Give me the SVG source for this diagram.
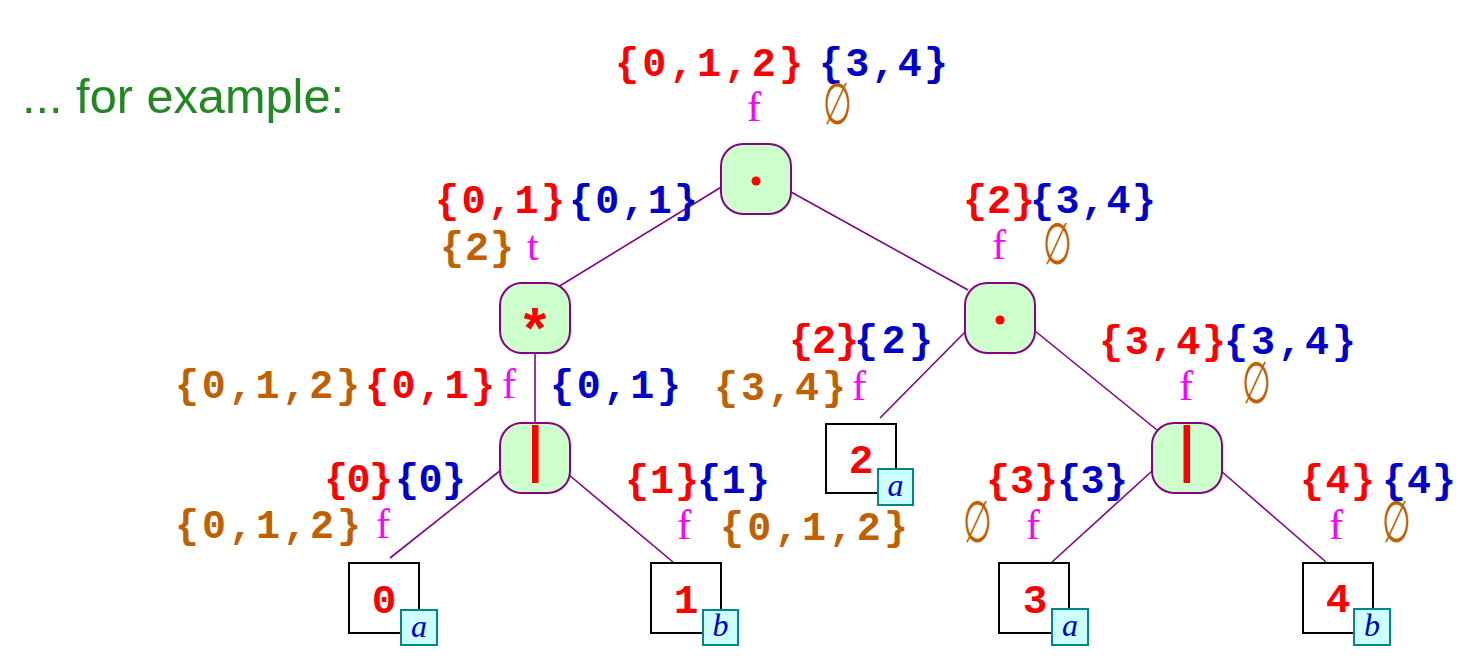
<svg xmlns="http://www.w3.org/2000/svg" width="1481" height="660" viewBox="0 0 1481 660">
<style>
.m{font-family:"Liberation Mono","DejaVu Sans Mono",monospace;font-weight:bold;font-size:40px}
.r{fill:#FF0000}.b{fill:#0000CC}.o{fill:#C06000}.g{fill:#FF00FF}
.f{font-family:"Liberation Serif","DejaVu Serif",serif;font-size:42px;fill:#FF00FF}
.e{font-family:"DejaVu Serif",serif;font-size:58px;fill:#C06000}
.node{fill:#CCFFCC;stroke:#880088;stroke-width:2}
.edge{stroke:#880088;stroke-width:1.6;fill:none}
.leaf{fill:#FFFFFF;stroke:#000000;stroke-width:2}
.tag{fill:#CCFFFF;stroke:#008888;stroke-width:2}
.tt{font-family:"Liberation Serif","DejaVu Serif",serif;font-style:italic;font-size:32px;fill:#0000CC;text-anchor:middle}
.ld{font-family:"Liberation Mono","DejaVu Sans Mono",monospace;font-weight:bold;font-size:41px;fill:#FF0000;text-anchor:middle}
.ttl{font-family:"Liberation Sans",Arial,sans-serif;font-size:48px;fill:#228822}
.star{font-family:"Liberation Mono","DejaVu Sans Mono",monospace;font-weight:bold;font-size:58px;fill:#FF0000;text-anchor:middle}
</style>
<rect width="1481" height="660" fill="#FFFFFF"/>
<text class="ttl" x="22" y="113" textLength="322" lengthAdjust="spacingAndGlyphs">... for example:</text>

<g id="connectors">
<line class="edge" x1="723" y1="186" x2="558" y2="287"/>
<line class="edge" x1="791" y1="192" x2="968" y2="290"/>
<line class="edge" x1="535" y1="353" x2="535" y2="423"/>
<line class="edge" x1="501" y1="470" x2="390" y2="558"/>
<line class="edge" x1="569" y1="475" x2="673" y2="562"/>
<line class="edge" x1="966" y1="331" x2="880" y2="418"/>
<line class="edge" x1="1035" y1="331" x2="1157" y2="430"/>
<line class="edge" x1="1152" y1="471" x2="1052" y2="562"/>
<line class="edge" x1="1221" y1="471" x2="1326" y2="562"/>
</g>

<g id="root">
<rect class="node" x="721" y="144" width="70" height="70" rx="22"/>
<circle cx="756" cy="181" r="4.5" fill="#FF0000"/>
<text class="m r" x="615" y="76" textLength="188" lengthAdjust="spacing">{0,1,2}</text>
<text class="m b" x="819" y="76" textLength="129" lengthAdjust="spacing">{3,4}</text>
<text class="f" x="747" y="121">f</text>
<text class="e" x="0" y="0" transform="translate(823,124) scale(0.57,1)">∅</text>
</g>

<g id="star">
<rect class="node" x="500" y="283" width="70" height="70" rx="22"/>
<text class="star" x="535" y="350">*</text>
<text class="m r" x="435" y="213" textLength="130" lengthAdjust="spacing">{0,1}</text>
<text class="m b" x="569" y="213" textLength="129" lengthAdjust="spacing">{0,1}</text>
<text class="m o" x="440" y="260" textLength="74" lengthAdjust="spacing">{2}</text>
<text class="f" x="527" y="260">t</text>
</g>

<g id="concat2">
<rect class="node" x="965" y="283" width="70" height="70" rx="22"/>
<circle cx="1000" cy="320" r="4.5" fill="#FF0000"/>
<text class="m r" x="963" y="213" textLength="72" lengthAdjust="spacing">{2}</text>
<text class="m b" x="1030" y="213" textLength="126" lengthAdjust="spacing">{3,4}</text>
<text class="f" x="992" y="259">f</text>
<text class="e" x="0" y="0" transform="translate(1043,264) scale(0.57,1)">∅</text>
</g>

<g id="alt1">
<rect class="node" x="500" y="423" width="70" height="70" rx="22"/>
<rect x="532" y="425" width="6.5" height="58" fill="#FF0000"/>
<text class="m o" x="175" y="398" textLength="185" lengthAdjust="spacing">{0,1,2}</text>
<text class="m r" x="365" y="398" textLength="130" lengthAdjust="spacing">{0,1}</text>
<text class="f" x="502" y="398">f</text>
<text class="m b" x="550" y="398" textLength="131" lengthAdjust="spacing">{0,1}</text>
</g>

<g id="alt2">
<rect class="node" x="1152" y="423" width="70" height="70" rx="22"/>
<rect x="1183.5" y="425" width="6.5" height="58" fill="#FF0000"/>
<text class="m r" x="1099" y="354" textLength="127" lengthAdjust="spacing">{3,4}</text>
<text class="m b" x="1224" y="354" textLength="132" lengthAdjust="spacing">{3,4}</text>
<text class="f" x="1179" y="400">f</text>
<text class="e" x="0" y="0" transform="translate(1242,403) scale(0.57,1)">∅</text>
</g>

<g id="leaf0">
<rect class="leaf" x="349" y="563" width="70" height="70"/>
<text class="ld" x="384" y="613">0</text>
<rect class="tag" x="401" y="610" width="36" height="35"/>
<text class="tt" x="419" y="637">a</text>
<text class="m r" x="324" y="492" textLength="69" lengthAdjust="spacing">{0}</text>
<text class="m b" x="395" y="492" textLength="71" lengthAdjust="spacing">{0}</text>
<text class="m o" x="175" y="538" textLength="186" lengthAdjust="spacing">{0,1,2}</text>
<text class="f" x="376" y="538">f</text>
</g>

<g id="leaf1">
<rect class="leaf" x="651" y="563" width="70" height="70"/>
<text class="ld" x="686" y="613">1</text>
<rect class="tag" x="703" y="610" width="35" height="35"/>
<text class="tt" x="720.5" y="636">b</text>
<text class="m r" x="625" y="493" textLength="74" lengthAdjust="spacing">{1}</text>
<text class="m b" x="697" y="493" textLength="73" lengthAdjust="spacing">{1}</text>
<text class="f" x="677" y="539">f</text>
<text class="m o" x="720" y="540" textLength="188" lengthAdjust="spacing">{0,1,2}</text>
</g>

<g id="leaf2">
<rect class="leaf" x="826" y="424" width="70" height="69"/>
<text class="ld" x="861" y="473">2</text>
<rect class="tag" x="878" y="469" width="35" height="36"/>
<text class="tt" x="895.5" y="496">a</text>
<text class="m r" x="789" y="353" textLength="70" lengthAdjust="spacing">{2}</text>
<text class="m b" x="854" y="353" textLength="79" lengthAdjust="spacing">{2}</text>
<text class="m o" x="714" y="400" textLength="132" lengthAdjust="spacing">{3,4}</text>
<text class="f" x="852" y="400">f</text>
</g>

<g id="leaf3">
<rect class="leaf" x="999" y="563" width="70" height="70"/>
<text class="ld" x="1035" y="613">3</text>
<rect class="tag" x="1052" y="609" width="36" height="36"/>
<text class="tt" x="1070" y="636">a</text>
<text class="m r" x="986" y="493" textLength="72" lengthAdjust="spacing">{3}</text>
<text class="m b" x="1057" y="493" textLength="71" lengthAdjust="spacing">{3}</text>
<text class="e" x="0" y="0" transform="translate(963,542) scale(0.57,1)">∅</text>
<text class="f" x="1026" y="539">f</text>
</g>

<g id="leaf4">
<rect class="leaf" x="1303" y="563" width="70" height="70"/>
<text class="ld" x="1338" y="612">4</text>
<rect class="tag" x="1354" y="609" width="36" height="36"/>
<text class="tt" x="1372" y="636">b</text>
<text class="m r" x="1300" y="493" textLength="75" lengthAdjust="spacing">{4}</text>
<text class="m b" x="1382" y="493" textLength="74" lengthAdjust="spacing">{4}</text>
<text class="f" x="1329" y="539">f</text>
<text class="e" x="0" y="0" transform="translate(1382,542) scale(0.57,1)">∅</text>
</g>
</svg>
